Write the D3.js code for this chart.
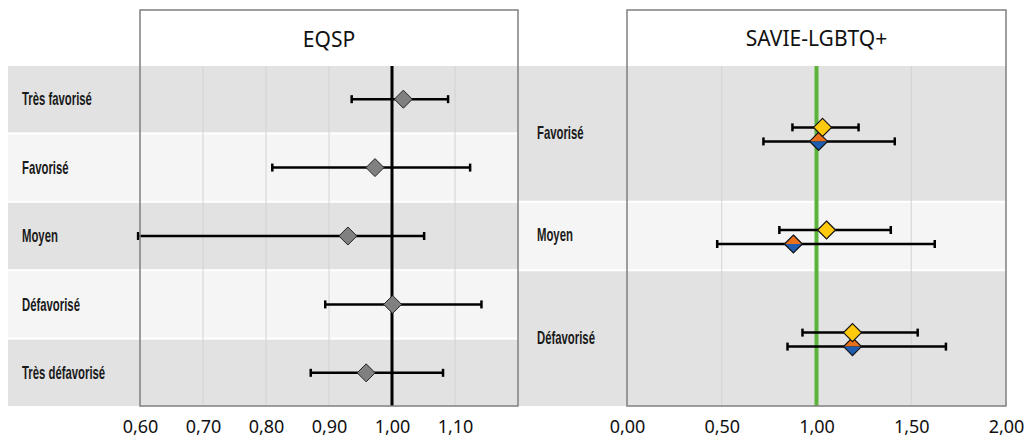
<!DOCTYPE html>
<html>
<head>
<meta charset="utf-8">
<script src="https://cdn.jsdelivr.net/npm/d3@7"></script>
<style>
  body { margin: 0; background: #fff; }
  .lbl { font-family: "Liberation Sans", Arial, sans-serif; font-size: 18px; font-weight: bold; fill: #1a1a1a; }
  .tick text { font-family: "Noto Sans", sans-serif; font-size: 18px; fill: #111; }
  .head { font-family: "Noto Sans", sans-serif; font-size: 21px; fill: #111; }
</style>
</head>
<body>
<div id="chart"></div>
<script>
// EQSP panel
const eqspRows = ['Très favorisé', 'Favorisé', 'Moyen', 'Défavorisé', 'Très défavorisé']
const eqspEst = [1.018, 0.973, 0.930, 1.001, 0.959]
const eqspLow = [0.936, 0.810, 0.597, 0.894, 0.871]
const eqspHigh = [1.089, 1.124, 1.051, 1.142, 1.081]
const eqspTicks = [0.6, 0.7, 0.8, 0.9, 1.0, 1.1]

// SAVIE-LGBTQ+ panel (each group spans some EQSP rows)
const savieRows = ['Favorisé', 'Moyen', 'Défavorisé']
const savieSpan = [[0, 1], [2, 2], [3, 4]]
const savieEstA = [1.032, 1.053, 1.190]
const savieLowA = [0.873, 0.804, 0.926]
const savieHighA = [1.222, 1.392, 1.534]
const savieEstB = [1.011, 0.878, 1.190]
const savieLowB = [0.720, 0.476, 0.847]
const savieHighB = [1.413, 1.624, 1.683]
const savieTicks = [0, 0.5, 1.0, 1.5, 2.0]

var W = 1029, H = 443
var top0 = 66, bot0 = 406

var svg = d3.select('#chart').append('svg')
  .attr('width', W).attr('height', H)

var fmt = function(d) { return d3.format('.2f')(d).replace('.', ',') }

var y = d3.scaleBand().domain(eqspRows).range([top0, bot0]).paddingInner(0.03).paddingOuter(0)

var xL = d3.scaleLinear().domain([0.6, 1.2]).range([140, 518])
var xR = d3.scaleLinear().domain([0, 2]).range([627, 1006])

var bandCol = ['#e2e2e2', '#f5f5f5']
var squeeze = 0.63

// left bands
svg.append('g').selectAll('rect')
  .data(eqspRows).enter().append('rect')
  .attr('x', 8).attr('width', 518 - 8)
  .attr('y', function(d) { return y(d) })
  .attr('height', y.bandwidth())
  .attr('fill', function(d, i) { return bandCol[i % 2] })

// right bands
var rSpan = savieSpan.map(function(s) {
  return [y(eqspRows[s[0]]), y(eqspRows[s[1]]) + y.bandwidth()]
})
svg.append('g').selectAll('rect')
  .data(savieRows).enter().append('rect')
  .attr('x', 518).attr('width', 1006 - 518)
  .attr('y', function(d, i) { return rSpan[i][0] })
  .attr('height', function(d, i) { return rSpan[i][1] - rSpan[i][0] })
  .attr('fill', function(d, i) { return bandCol[i % 2] })

// gridlines
svg.append('g').selectAll('line')
  .data(eqspTicks.slice(1)).enter().append('line')
  .attr('x1', function(d) { return xL(d) }).attr('x2', function(d) { return xL(d) })
  .attr('y1', top0).attr('y2', bot0)
  .attr('stroke', '#d2d2d2').attr('stroke-width', 1)
svg.append('g').selectAll('line')
  .data([0.5, 1.5]).enter().append('line')
  .attr('x1', function(d) { return xR(d) }).attr('x2', function(d) { return xR(d) })
  .attr('y1', top0).attr('y2', bot0)
  .attr('stroke', '#d2d2d2').attr('stroke-width', 1)

// row labels (condensed look)
svg.append('g').selectAll('text')
  .data(eqspRows).enter().append('text')
  .attr('class', 'lbl')
  .attr('transform', function(d) { return 'translate(22,' + (y(d) + y.bandwidth() / 2) + ') scale(' + squeeze + ',1)' })
  .attr('dy', '0.35em')
  .text(function(d) { return d })
svg.append('g').selectAll('text')
  .data(savieRows).enter().append('text')
  .attr('class', 'lbl')
  .attr('transform', function(d, i) { return 'translate(537,' + ((rSpan[i][0] + rSpan[i][1]) / 2 - 1) + ') scale(' + squeeze + ',1)' })
  .attr('dy', '0.35em')
  .text(function(d) { return d })

// reference lines
svg.append('line')
  .attr('x1', xL(1)).attr('x2', xL(1)).attr('y1', top0).attr('y2', bot0)
  .attr('stroke', '#000').attr('stroke-width', 3)
svg.append('line')
  .attr('x1', xR(1)).attr('x2', xR(1)).attr('y1', top0).attr('y2', bot0)
  .attr('stroke', '#5bb33a').attr('stroke-width', 4)

function errBar(g, x, x1, x2, yy) {
  g.append('line').attr('x1', x(x1)).attr('x2', x(x2)).attr('y1', yy).attr('y2', yy)
    .attr('stroke', '#000').attr('stroke-width', 2.5)
  ;[x1, x2].forEach(function(v) {
    g.append('line').attr('x1', x(v)).attr('x2', x(v)).attr('y1', yy - 4).attr('y2', yy + 4)
      .attr('stroke', '#000').attr('stroke-width', 2.5)
  })
}

var dr = 9
function diamond(cx, cy) {
  return 'M' + cx + ',' + (cy - dr) + 'L' + (cx + dr) + ',' + cy + 'L' + cx + ',' + (cy + dr) + 'L' + (cx - dr) + ',' + cy + 'Z'
}

// EQSP marks
var gL = svg.append('g')
eqspRows.forEach(function(r, i) {
  var yy = y(r) + y.bandwidth() / 2
  errBar(gL, xL, eqspLow[i], eqspHigh[i], yy)
})
gL.selectAll('path').data(eqspRows).enter().append('path')
  .attr('d', function(d, i) { return diamond(xL(eqspEst[i]), y(d) + y.bandwidth() / 2) })
  .attr('fill', '#808080').attr('stroke', '#222').attr('stroke-width', 1)

// SAVIE marks
var gR = svg.append('g')
savieRows.forEach(function(r, i) {
  var cy = (rSpan[i][0] + rSpan[i][1]) / 2 + 1
  errBar(gR, xR, savieLowA[i], savieHighA[i], cy - 7)
  errBar(gR, xR, savieLowB[i], savieHighB[i], cy + 7)
  var cx = xR(savieEstB[i]), yb = cy + 7
  gR.append('path')
    .attr('d', 'M' + (cx - dr) + ',' + yb + 'L' + cx + ',' + (yb - dr) + 'L' + (cx + dr) + ',' + yb + 'Z')
    .attr('fill', '#e8701a')
  gR.append('path')
    .attr('d', 'M' + (cx - dr) + ',' + yb + 'L' + cx + ',' + (yb + dr) + 'L' + (cx + dr) + ',' + yb + 'Z')
    .attr('fill', '#1f5db0')
  gR.append('path').attr('d', diamond(cx, yb))
    .attr('fill', 'none').attr('stroke', '#111').attr('stroke-width', 1.2)
  gR.append('path').attr('d', diamond(xR(savieEstA[i]), cy - 7))
    .attr('fill', '#ffc90e').attr('stroke', '#111').attr('stroke-width', 1.2)
})

// frames and headers
svg.append('rect').attr('x', 140).attr('y', 10).attr('width', 518 - 140).attr('height', bot0 - 10)
  .attr('fill', 'none').attr('stroke', '#7f7f7f').attr('stroke-width', 1.5)
svg.append('rect').attr('x', 627).attr('y', 10).attr('width', 1006 - 627).attr('height', bot0 - 10)
  .attr('fill', 'none').attr('stroke', '#7f7f7f').attr('stroke-width', 1.5)
svg.append('text').attr('class', 'head').attr('x', (140 + 518) / 2).attr('y', 40)
  .attr('text-anchor', 'middle').attr('dy', '0.35em').text('EQSP')
svg.append('text').attr('class', 'head').attr('x', (627 + 1006) / 2).attr('y', 39)
  .attr('text-anchor', 'middle').attr('dy', '0.35em').text('SAVIE-LGBTQ+')

// axes
var axL = svg.append('g').attr('transform', 'translate(0,' + (bot0 + 8) + ')')
  .call(d3.axisBottom(xL).tickValues(eqspTicks).tickFormat(fmt).tickSize(0).tickPadding(6))
var axR = svg.append('g').attr('transform', 'translate(0,' + (bot0 + 8) + ')')
  .call(d3.axisBottom(xR).tickValues(savieTicks).tickFormat(fmt).tickSize(0).tickPadding(6))
axL.select('.domain').remove()
axR.select('.domain').remove()
</script>
</body>
</html>
